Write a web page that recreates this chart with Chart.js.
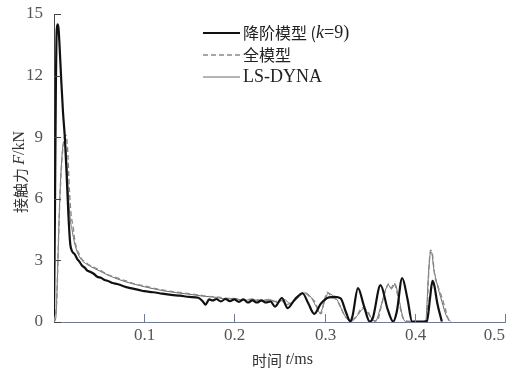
<!DOCTYPE html>
<html><head><meta charset="utf-8">
<script src="https://cdn.jsdelivr.net/npm/chart.js@4/dist/chart.umd.min.js"></script>
<style>html,body{margin:0;padding:0;background:#fff}#wrap{width:507px;height:375px}</style>
</head><body><div id="wrap"><canvas id="c" width="507" height="375"></canvas></div>
<script>
const xTicks = [0, 0.1, 0.2, 0.3, 0.4, 0.5];
const yTicks = [0, 3, 6, 9, 12, 15];
const seriesNames = ["降阶模型 (k=9)", "全模型", "LS-DYNA"];

const reducedT = [0,0.001,0.002,0.003,0.004,0.005,0.006,0.008,0.010,0.012,0.014,0.016,0.018,0.020,0.023,0.026,0.028,0.031,0.034,0.037,0.040,0.044,0.048,0.052,0.056,0.060,0.065,0.070,0.075,0.080,0.085,0.090,0.095,0.100,0.110,0.120,0.130,0.140,0.150,0.160,0.165,0.168,0.172,0.176,0.180,0.185,0.190,0.195,0.200,0.205,0.210,0.215,0.220,0.225,0.230,0.235,0.240,0.245,0.2527,0.259,0.267,0.2755,0.282,0.2885,0.296,0.3048,0.311,0.3178,0.3235,0.3286,0.331,0.337,0.3435,0.350,0.3535,0.362,0.370,0.376,0.380,0.386,0.392,0.397,0.410,0.4135,0.417,0.4195,0.4215,0.425,0.430];
const reducedF = [0.3,5,11,14.2,14.5,14.3,13.6,11.8,10.2,9.0,7.2,5.2,3.8,3.45,3.3,3.05,2.95,2.75,2.65,2.5,2.45,2.35,2.2,2.15,2.05,2.0,1.9,1.85,1.78,1.7,1.65,1.6,1.55,1.5,1.45,1.38,1.32,1.28,1.22,1.18,1.0,0.85,1.1,1.05,1.12,1.0,1.12,1.02,1.1,0.98,1.1,0.95,1.05,0.95,1.05,0.95,1.0,0.75,1.17,0.68,1.1,1.4,0.9,0.4,0.9,1.2,1.22,1.15,0.5,0.02,0.3,1.65,0.8,0.02,0.2,1.8,0.6,0.02,0.5,2.14,1.1,0.02,0.02,0.05,1.2,2.0,1.8,0.9,0.02];

const fullT = [0,0.003,0.005,0.007,0.009,0.011,0.013,0.015,0.017,0.019,0.021,0.023,0.025,0.028,0.031,0.034,0.038,0.042,0.046,0.050,0.055,0.060,0.065,0.070,0.075,0.080,0.090,0.100,0.110,0.120,0.135,0.150,0.160,0.170,0.180,0.190,0.200,0.210,0.220,0.230,0.238,0.245,0.252,0.258,0.265,0.270,0.277,0.283,0.289,0.296,0.299,0.303,0.308,0.313,0.318,0.323,0.328,0.335,0.342,0.348,0.353,0.358,0.363,0.368,0.371,0.374,0.377,0.381,0.386,0.390,0.410,0.413,0.4155,0.4175,0.4195,0.422,0.426,0.430,0.434,0.438,0.440];
const fullF = [0,1,4,6.5,8,8.9,9.1,8.5,6.5,5.2,4.7,4.0,3.6,3.3,3.05,2.95,2.8,2.72,2.62,2.55,2.42,2.3,2.22,2.15,2.07,2.0,1.85,1.76,1.65,1.56,1.46,1.38,1.32,1.25,1.22,1.16,1.14,1.08,1.12,1.05,1.1,1.0,1.05,0.85,1.0,1.2,1.45,1.25,1.0,0.4,0.9,1.45,1.2,1.1,0.7,0.25,0.1,0.25,0.7,0.5,0.1,0.05,0.8,1.6,1.85,1.65,1.9,1.3,0.3,0.05,0.02,0.05,2.5,3.5,3.3,2.3,1.7,1.2,0.6,0.05,0];

const lsT = [0,0.002,0.004,0.006,0.008,0.010,0.012,0.014,0.016,0.018,0.020,0.022,0.025,0.028,0.031,0.035,0.040,0.045,0.050,0.060,0.070,0.080,0.090,0.100,0.110,0.120,0.135,0.150,0.165,0.180,0.190,0.200,0.210,0.220,0.230,0.240,0.248,0.255,0.262,0.270,0.278,0.285,0.290,0.295,0.300,0.304,0.310,0.315,0.320,0.325,0.330,0.337,0.343,0.350,0.356,0.362,0.367,0.371,0.374,0.378,0.382,0.387,0.390,0.412,0.415,0.417,0.4185,0.421,0.425,0.430,0.435,0.440];
const lsF = [0,0.2,2.5,5.5,7.5,8.6,8.8,8.0,6.2,5.0,4.5,4.0,3.5,3.2,3.0,2.85,2.72,2.6,2.5,2.28,2.1,1.95,1.83,1.72,1.62,1.53,1.43,1.35,1.26,1.2,1.12,1.15,1.05,1.1,1.0,1.08,0.95,1.1,0.9,1.15,1.42,1.2,0.8,0.45,1.0,1.4,1.25,1.0,0.5,0.15,0.05,0.35,0.65,0.3,0.02,0.7,1.5,1.8,1.6,1.85,1.2,0.2,0.02,0.02,2.2,3.3,3.4,2.6,1.8,1.0,0.3,0.02];

const pts = (T, F) => T.map((t, i) => ({x: t, y: F[i]}));

const innerTicks = {
  id: 'innerTicks',
  afterDraw(chart) {
    const {ctx, scales: {x, y}, chartArea: a} = chart;
    ctx.save();
    ctx.lineWidth = 1;
    ctx.strokeStyle = '#444';
    yTicks.forEach(v => {
      const py = Math.round(y.getPixelForValue(v)) + 0.5;
      ctx.beginPath(); ctx.moveTo(a.left, py); ctx.lineTo(a.left + 7, py); ctx.stroke();
    });
    ctx.strokeStyle = '#6f7c98';
    ctx.fillStyle = '#555';
    ctx.font = '17px "Liberation Serif"';
    ctx.textAlign = 'center';
    ctx.textBaseline = 'alphabetic';
    xTicks.forEach(v => {
      if (v === 0) return;
      const px = Math.round(x.getPixelForValue(v)) + 0.5;
      ctx.beginPath(); ctx.moveTo(px, a.bottom); ctx.lineTo(px, a.bottom - 8); ctx.stroke();
      const lab = String(v);
      const w = ctx.measureText(lab).width;
      const cx = Math.min(px, chart.width - 2 - w / 2);
      ctx.fillText(lab, cx, a.bottom + 18);
    });
    ctx.textAlign = 'left';
    const seg = (parts, sx, sy) => {
      let cx = sx;
      parts.forEach(p => { ctx.font = p[1]; ctx.fillText(p[0], cx, sy); cx += ctx.measureText(p[0]).width; });
      return cx - sx;
    };
    const measure = parts => parts.reduce((w, p) => { ctx.font = p[1]; return w + ctx.measureText(p[0]).width; }, 0);
    ctx.fillStyle = '#333';
    ctx.textBaseline = 'middle';
    const cjkT = '15px "Noto Sans CJK SC"';
    const serT = '16px "Liberation Serif"';
    const serTI = 'italic 16px "Liberation Serif"';
    const xt = [['时间 ', cjkT], ['t', serTI], ['/ms', serT]];
    const wx = measure(xt);
    seg(xt, (a.left + a.right) / 2 + 3 - wx / 2, 360);
    const yt = [['接触力 ', cjkT], ['F', serTI], ['/kN', serT]];
    const wy = measure(yt);
    ctx.save();
    ctx.translate(20, (a.top + a.bottom) / 2 + 4);
    ctx.rotate(-Math.PI / 2);
    seg(yt, -wy / 2, 0);
    ctx.restore();
    // legend
    const cjk = '16px "Noto Sans CJK SC"';
    const ser = '18px "Liberation Serif"';
    const serI = 'italic 18px "Liberation Serif"';
    const L = 203, R = 240, tx = 243;
    const rows = [33, 55, 77];
    const ds = chart.data.datasets;
    rows.forEach((ry, i) => {
      ctx.save();
      ctx.strokeStyle = ds[i].borderColor;
      ctx.lineWidth = ds[i].borderWidth;
      ctx.setLineDash(ds[i].borderDash || []);
      ctx.beginPath(); ctx.moveTo(L, ry); ctx.lineTo(R, ry); ctx.stroke();
      ctx.restore();
    });
    ctx.fillStyle = '#222';
    seg([['降阶模型 (', cjk], ['k', serI], ['=9)', ser]], tx, rows[0]);
    seg([['全模型', cjk]], tx, rows[1]);
    seg([['LS-DYNA', ser]], tx, rows[2]);
    ctx.restore();
  }
};

new Chart(document.getElementById('c'), {
  type: 'line',
  data: {
    datasets: [
      {label: seriesNames[0], data: pts(reducedT, reducedF), borderColor: '#111', borderWidth: 2.2, pointRadius: 0, tension: 0.3, cubicInterpolationMode: 'monotone', order: 1},
      {label: seriesNames[1], data: pts(fullT, fullF), borderColor: '#8a8a8a', borderWidth: 1.4, borderDash: [5, 3], pointRadius: 0, tension: 0.3, cubicInterpolationMode: 'monotone', order: 2},
      {label: seriesNames[2], data: pts(lsT, lsF), borderColor: '#6a6a6a', borderWidth: 1, pointRadius: 0, tension: 0.3, cubicInterpolationMode: 'monotone', order: 3}
    ]
  },
  options: {
    animation: false,
    responsive: false,
    devicePixelRatio: 1,
    layout: {padding: {top: 14, right: 2, left: 0, bottom: 0}},
    plugins: {legend: {display: false}, tooltip: {enabled: false}},
    scales: {
      x: {
        type: 'linear', min: 0, max: 0.5,
        afterBuildTicks: s => { s.ticks = xTicks.map(v => ({value: v})); },
        afterFit: s => { s.height = 53; s.paddingRight = 0; s.paddingLeft = 0; },
        grid: {display: false},
        border: {display: true, color: '#6f7c98', width: 1},
        ticks: {display: false}
      },
      y: {
        min: 0, max: 15,
        afterBuildTicks: s => { s.ticks = yTicks.map(v => ({value: v})); },
        afterFit: s => { s.width = 54; s.paddingTop = 0; s.paddingBottom = 0; },
        grid: {display: false},
        border: {display: true, color: '#444', width: 1},
        ticks: {padding: 3, color: '#555', font: {family: 'Liberation Serif', size: 17}}
      }
    }
  },
  plugins: [innerTicks]
});
</script>
</body></html>
